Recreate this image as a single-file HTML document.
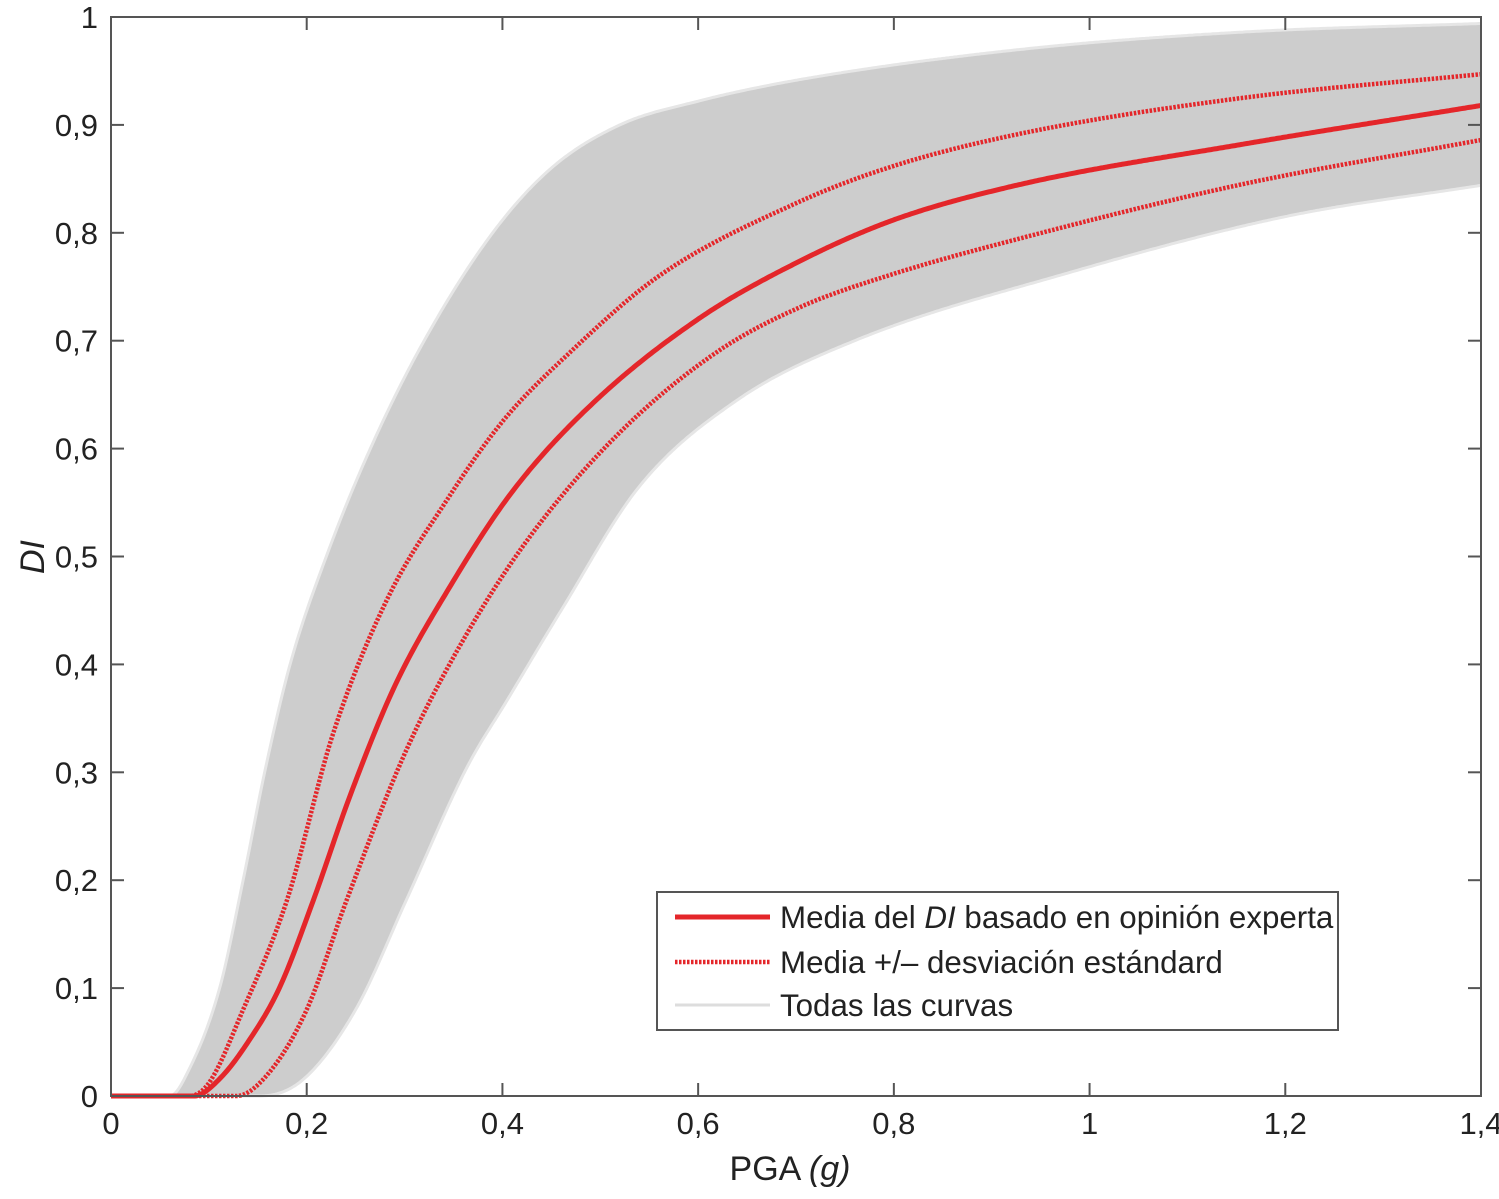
<!DOCTYPE html>
<html><head><meta charset="utf-8"><style>
html,body{margin:0;padding:0;background:#fff;}
svg{display:block;font-family:"Liberation Sans",Arial,sans-serif;}
</style></head><body>
<svg id="chart" width="1499" height="1199">
<g id="plot"></g>
</svg>
<script>
// ---- data ----
const xTicks=[0,0.2,0.4,0.6,0.8,1.0,1.2,1.4];
const xTickLabels=["0","0,2","0,4","0,6","0,8","1","1,2","1,4"];
const yTicks=[0,0.1,0.2,0.3,0.4,0.5,0.6,0.7,0.8,0.9,1];
const yTickLabels=["0","0,1","0,2","0,3","0,4","0,5","0,6","0,7","0,8","0,9","1"];
const upperEnvX=[0,0.06,0.08,0.111,0.135,0.157,0.183,0.22,0.265,0.32,0.39,0.45,0.52,0.6,0.704,0.93,1.156,1.4];
const upperEnvY=[0,0,0.025,0.1,0.2,0.3,0.4,0.5,0.6,0.7,0.8,0.86,0.9,0.922,0.942,0.97,0.986,0.994];
const lowerEnvX=[0,0.152,0.196,0.25,0.302,0.364,0.405,0.46,0.54,0.64,0.76,0.975,1.2,1.4];
const lowerEnvY=[0,0,0.015,0.08,0.182,0.305,0.367,0.45,0.565,0.645,0.7,0.762,0.815,0.844];
const meanX=[0,0.085,0.11,0.14,0.172,0.207,0.245,0.29,0.345,0.41,0.49,0.6,0.7,0.8,0.93,1.156,1.4];
const meanY=[0,0,0.015,0.05,0.1,0.182,0.28,0.38,0.47,0.56,0.64,0.72,0.772,0.812,0.845,0.882,0.918];
const upStdX=[0,0.08,0.1,0.135,0.18,0.227,0.282,0.343,0.4,0.47,0.56,0.704,0.8,0.93,1.156,1.4];
const upStdY=[0,0,0.012,0.08,0.182,0.336,0.46,0.552,0.625,0.69,0.76,0.829,0.862,0.892,0.925,0.947];
const loStdX=[0,0.128,0.16,0.2,0.241,0.302,0.364,0.431,0.52,0.62,0.704,0.8,0.93,1.156,1.4];
const loStdY=[0,0,0.02,0.08,0.182,0.321,0.429,0.522,0.615,0.69,0.731,0.762,0.795,0.845,0.886];

const X0=111,X1=1481,Y0=1096,Y1=17;
const sx=v=>X0+(X1-X0)*v/1.4;
const sy=v=>Y0-(Y0-Y1)*v;
const NS="http://www.w3.org/2000/svg";
const plot=document.getElementById('plot');
function mk(t,a,p){const e=document.createElementNS(NS,t);for(const k in a)e.setAttribute(k,a[k]);(p||plot).appendChild(e);return e;}
function mono(xs,ys){const n=xs.length,d=[],m=new Array(n);
 for(let i=0;i<n-1;i++)d.push((ys[i+1]-ys[i])/(xs[i+1]-xs[i]));
 m[0]=d[0];m[n-1]=d[n-2];
 for(let i=1;i<n-1;i++){m[i]=(d[i-1]*d[i]<=0)?0:(d[i-1]+d[i])/2;}
 for(let i=0;i<n-1;i++){if(d[i]===0){m[i]=0;m[i+1]=0;continue;}
  const a=m[i]/d[i],b=m[i+1]/d[i],s=a*a+b*b;if(s>9){const t=3/Math.sqrt(s);m[i]=t*a*d[i];m[i+1]=t*b*d[i];}}
 return x=>{let i=0;while(i<n-2&&x>xs[i+1])i++;const h=xs[i+1]-xs[i],t=(x-xs[i])/h,t2=t*t,t3=t2*t;
  return (2*t3-3*t2+1)*ys[i]+(t3-2*t2+t)*h*m[i]+(-2*t3+3*t2)*ys[i+1]+(t3-t2)*h*m[i+1];};}
function sample(xs,ys){const f=mono(xs,ys),p=[];for(let px=X0;px<=X1;px+=2){const x=(px-X0)/(X1-X0)*1.4;p.push([px,sy(Math.max(0,f(x)))]);}return p;}
function d(p){return p.map((q,i)=>(i?'L':'M')+q[0].toFixed(1)+','+q[1].toFixed(1)).join(' ');}
const up=sample(upperEnvX,upperEnvY),lo=sample(lowerEnvX,lowerEnvY);
const bandD=d(up)+' '+lo.slice().reverse().map(q=>'L'+q[0].toFixed(1)+','+q[1].toFixed(1)).join(' ')+' Z';
let band=mk('path',{d:bandD,fill:'#cdcdcd',stroke:'none'});


let e1=mk('path',{d:d(up),fill:'none',stroke:'#e6e6e6','stroke-width':3});


let e2=mk('path',{d:d(lo),fill:'none',stroke:'#e6e6e6','stroke-width':3});


function line(xs,ys,name,dotted){const e=mk('path',{d:d(sample(xs,ys)),fill:'none',stroke:'#e4262a','stroke-width':dotted?4.5:5,'stroke-dasharray':dotted?'2.5 1.5':'none'});
 
 }
line(upStdX,upStdY,'mean-plus-std-line',true);
line(loStdX,loStdY,'mean-minus-std-line',true);
line(meanX,meanY,'mean-di-line',false);
let box=mk('rect',{x:X0,y:Y1,width:X1-X0,height:Y0-Y1,fill:'none',stroke:'#555','stroke-width':2});


xTicks.forEach((v,i)=>{const x=sx(v);
 mk('line',{x1:x,x2:x,y1:Y0,y2:Y0-13,stroke:'#555','stroke-width':2});
 mk('line',{x1:x,x2:x,y1:Y1,y2:Y1+13,stroke:'#555','stroke-width':2});
 const t=mk('text',{x:x,y:1134,'text-anchor':'middle','font-size':31,fill:'#222'});t.textContent=xTickLabels[i];
 
 });
yTicks.forEach((v,i)=>{const y=sy(v);
 mk('line',{x1:X0,x2:X0+13,y1:y,y2:y,stroke:'#555','stroke-width':2});
 mk('line',{x1:X1,x2:X1-13,y1:y,y2:y,stroke:'#555','stroke-width':2});
 const t=mk('text',{x:98,y:y+11,'text-anchor':'end','font-size':31,fill:'#222'});t.textContent=yTickLabels[i];
 
 });
</script>
<svg style="position:absolute;left:0;top:0" width="1499" height="1199">
<text x="790" y="1180" text-anchor="middle" font-size="34" fill="#222" font-family="Liberation Sans, sans-serif">PGA <tspan font-style="italic">(g)</tspan></text>
<text transform="translate(44,557) rotate(-90)" text-anchor="middle" font-size="34" font-style="italic" fill="#222" font-family="Liberation Sans, sans-serif">DI</text>
<g font-family="Liberation Sans, sans-serif" font-size="31.3" fill="#222">
<rect x="657" y="892" width="681" height="138" fill="#fff" stroke="#555" stroke-width="2"/>
<line x1="675" x2="770" y1="917" y2="917" stroke="#e4262a" stroke-width="5"/>
<text x="780" y="928">Media del <tspan font-style="italic">DI</tspan> basado en opinión experta</text>
<line x1="675" x2="770" y1="962" y2="962" stroke="#e4262a" stroke-width="4.5" stroke-dasharray="2.5 1.5"/>
<text x="780" y="973">Media +/– desviación estándard</text>
<line x1="675" x2="770" y1="1005" y2="1005" stroke="#ddd" stroke-width="3"/>
<text x="780" y="1016">Todas las curvas</text>
</g>
</svg>
</body></html>
